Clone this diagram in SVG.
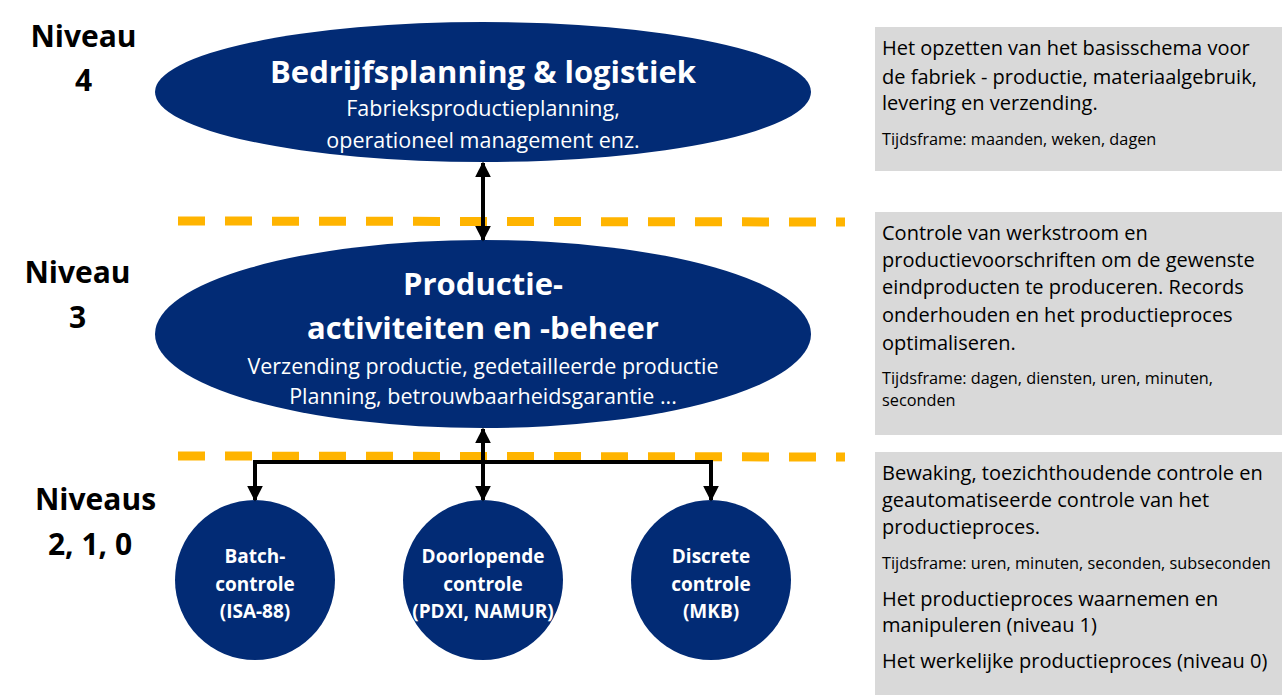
<svg xmlns="http://www.w3.org/2000/svg" width="1284" height="697" viewBox="0 0 1284 697">
<defs>
<style>
.node{fill:#022b75}
.t{font-family:"Open Sans","Liberation Sans",sans-serif;fill:#fff;text-anchor:middle}
.tb{font-weight:bold}
.lvl{font-family:"Open Sans","Liberation Sans",sans-serif;font-weight:bold;font-size:30px;fill:#000;text-anchor:middle}
.box{fill:#d9d9d9}
.d{font-family:"Open Sans","Liberation Sans",sans-serif;fill:#000;font-size:20px}
.s{font-size:16.3px}
.dash{stroke:#ffb400;stroke-width:9;stroke-dasharray:27 20;fill:none}
.c{stroke:#000;stroke-width:4;fill:none}
</style>
<marker id="ah" viewBox="0 0 10 10" refX="9" refY="5" markerWidth="4" markerHeight="4" orient="auto-start-reverse" markerUnits="strokeWidth">
<path d="M0,0 L10,5 L0,10 Z" fill="#000"/>
</marker>
</defs>
<rect width="1284" height="697" fill="#fff"/>

<g id="levels">
<text class="lvl" x="83.5" y="47">Niveau</text>
<text class="lvl" x="83.5" y="91">4</text>
<text class="lvl" x="77.5" y="283">Niveau</text>
<text class="lvl" x="77.5" y="328">3</text>
<text class="lvl" x="95.5" y="510">Niveaus</text>
<text class="lvl" x="90" y="555">2, 1, 0</text>
</g>

<g id="separators">
<line class="dash" x1="178" y1="221" x2="845" y2="222"/>
<line class="dash" x1="178" y1="456" x2="845" y2="457"/>
</g>

<g id="level4">
<ellipse class="node" cx="483" cy="92" rx="328" ry="70"/>
<text class="t tb" x="483" y="83" font-size="31">Bedrijfsplanning &amp; logistiek</text>
<text class="t" x="483" y="116" font-size="21.5">Fabrieksproductieplanning,</text>
<text class="t" x="483" y="148" font-size="21.5">operationeel management enz.</text>
</g>

<g id="level3">
<ellipse class="node" cx="483" cy="334" rx="328" ry="94"/>
<text class="t tb" x="483" y="295" font-size="31">Productie-</text>
<text class="t tb" x="483" y="339" font-size="31">activiteiten en -beheer</text>
<text class="t" x="483" y="374" font-size="21.5">Verzending productie, gedetailleerde productie</text>
<text class="t" x="483" y="404" font-size="21.5">Planning, betrouwbaarheidsgarantie ...</text>
</g>

<g id="batch">
<circle class="node" cx="255" cy="580" r="80"/>
<text class="t tb" x="255" y="563" font-size="19">Batch-</text>
<text class="t tb" x="255" y="591" font-size="19">controle</text>
<text class="t tb" x="255" y="618" font-size="19">(ISA-88)</text>
</g>
<g id="continuous">
<circle class="node" cx="483" cy="580" r="80"/>
<text class="t tb" x="483" y="563" font-size="19">Doorlopende</text>
<text class="t tb" x="483" y="591" font-size="19">controle</text>
<text class="t tb" x="483" y="618" font-size="19">(PDXI, NAMUR)</text>
</g>
<g id="discrete">
<circle class="node" cx="711" cy="580" r="80"/>
<text class="t tb" x="711" y="563" font-size="19">Discrete</text>
<text class="t tb" x="711" y="591" font-size="19">controle</text>
<text class="t tb" x="711" y="618" font-size="19">(MKB)</text>
</g>

<g id="connectors">
<line class="c" x1="483" y1="163" x2="483" y2="240" marker-start="url(#ah)" marker-end="url(#ah)"/>
<line class="c" x1="483" y1="429" x2="483" y2="500" marker-start="url(#ah)" marker-end="url(#ah)"/>
<polyline class="c" points="255,500 255,462 711,462 711,500" marker-start="url(#ah)" marker-end="url(#ah)"/>
</g>

<g id="desc4">
<rect class="box" x="875" y="27" width="407" height="144"/>
<text class="d" x="882" y="55">Het opzetten van het basisschema voor</text>
<text class="d" x="882" y="84">de fabriek - productie, materiaalgebruik,</text>
<text class="d" x="882" y="110">levering en verzending.</text>
<text class="d s" x="882" y="145">Tijdsframe: maanden, weken, dagen</text>
</g>

<g id="desc3">
<rect class="box" x="875" y="212" width="407" height="223"/>
<text class="d" x="882" y="240">Controle van werkstroom en</text>
<text class="d" x="882" y="267">productievoorschriften om de gewenste</text>
<text class="d" x="882" y="294">eindproducten te produceren. Records</text>
<text class="d" x="882" y="322">onderhouden en het productieproces</text>
<text class="d" x="882" y="350">optimaliseren.</text>
<text class="d s" x="882" y="384">Tijdsframe: dagen, diensten, uren, minuten,</text>
<text class="d s" x="882" y="406">seconden</text>
</g>

<g id="desc210">
<rect class="box" x="875" y="452" width="407" height="243"/>
<text class="d" x="882" y="480">Bewaking, toezichthoudende controle en</text>
<text class="d" x="882" y="507">geautomatiseerde controle van het</text>
<text class="d" x="882" y="534">productieproces.</text>
<text class="d s" x="882" y="569">Tijdsframe: uren, minuten, seconden, subseconden</text>
<text class="d" x="882" y="606">Het productieproces waarnemen en</text>
<text class="d" x="882" y="632">manipuleren (niveau 1)</text>
<text class="d" x="882" y="668">Het werkelijke productieproces (niveau 0)</text>
</g>
</svg>
